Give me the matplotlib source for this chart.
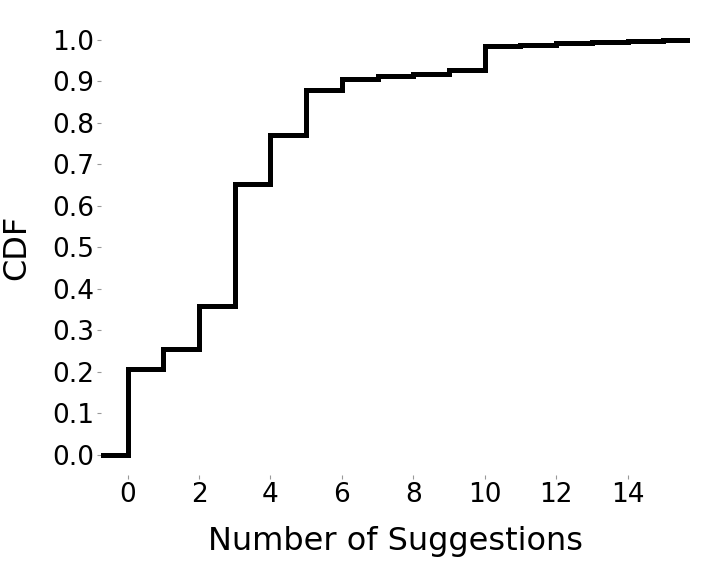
import matplotlib
matplotlib.use('Agg')
import matplotlib.pyplot as plt

# --- data: CDF of number of suggestions ---
suggestions = [0, 1, 2, 3, 4, 5, 6, 7, 8, 9, 10, 11, 12, 13, 14, 15]
cdf_values = [0.205, 0.254, 0.357, 0.651, 0.771, 0.879, 0.906, 0.913, 0.917, 0.927,
              0.984, 0.986, 0.991, 0.994, 0.997, 1.0]
x_ticks = [0, 2, 4, 6, 8, 10, 12, 14]
y_ticks = [0.0, 0.1, 0.2, 0.3, 0.4, 0.5, 0.6, 0.7, 0.8, 0.9, 1.0]

X_MIN, X_MAX = -0.75, 15.75

fig = plt.figure(figsize=(7.1, 5.74), dpi=100)
ax = fig.add_axes([0.142, 0.172, 0.830, 0.795])

xs = [X_MIN] + suggestions + [X_MAX]
ys = [0.0] + cdf_values + [cdf_values[-1]]
ax.step(xs, ys, where='post', color='black', linewidth=3.6, solid_joinstyle='miter')

ax.set_xlim(X_MIN, X_MAX)
ax.set_ylim(-0.05, 1.05)
ax.set_xticks(x_ticks)
ax.set_yticks(y_ticks)
ax.set_yticklabels([f"{v:.1f}" for v in y_ticks])

for s in ax.spines.values():
    s.set_visible(False)
ax.tick_params(axis='both', labelsize=19, length=3, width=0.8, color='#999999', pad=2)

ax.set_xlabel('Number of Suggestions', fontsize=23, labelpad=13)
ax.set_ylabel('CDF', fontsize=23, labelpad=14)

fig.savefig('out.png', dpi=100)
